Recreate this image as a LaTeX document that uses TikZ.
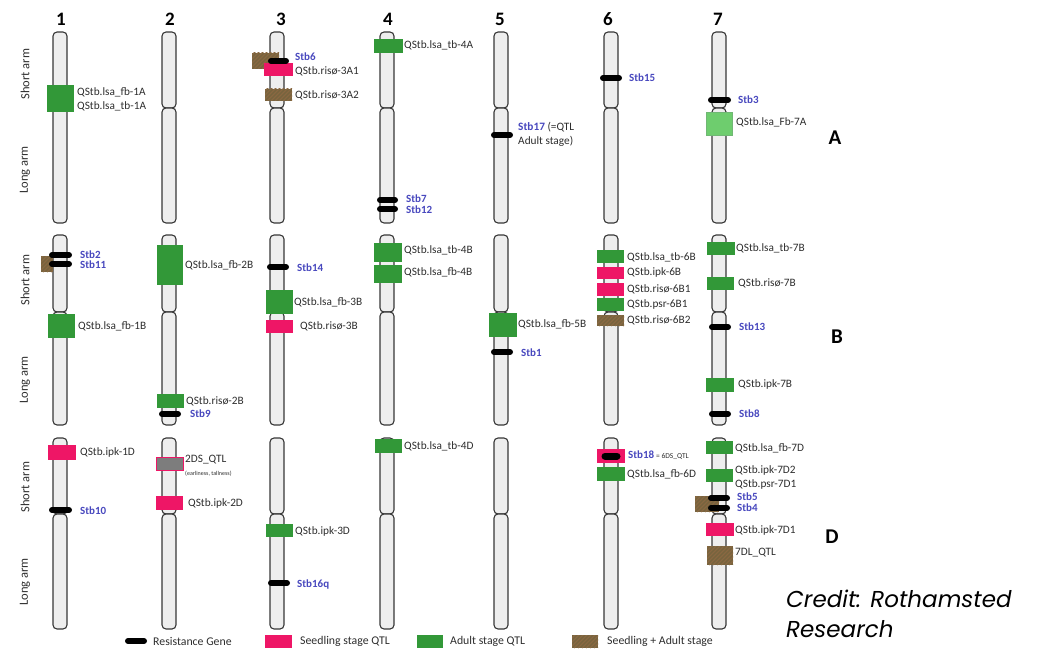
\documentclass[tikz,border=0pt]{standalone}
\usepackage{fontspec}
\setmainfont{Carlito}
\newfontfamily\creditfont{Poppins}
\definecolor{chrfill}{RGB}{238,238,238}
\definecolor{chrline}{RGB}{55,55,55}
\definecolor{adult}{RGB}{50,152,56}
\definecolor{adultlt}{RGB}{110,205,110}
\definecolor{seed}{RGB}{238,22,102}
\definecolor{both}{RGB}{118,100,62}
\definecolor{hatch}{RGB}{138,104,66}
\definecolor{stbblue}{RGB}{72,72,190}
\definecolor{qtltext}{RGB}{45,45,45}
\definecolor{grayq}{RGB}{125,125,125}
\newcommand\chromo[4]{%
  \draw[chr] (#1-7,#2) rectangle (#1+7,#3);
  \draw[chr] (#1-7,#3) rectangle (#1+7,#4);}
% hatched "seedling + adult" box: x1 y1 x2 y2
\newcommand\bothbox[4]{%
  \begin{scope}
    \clip (#1,#2) rectangle (#3,#4);
    \fill[both] (#1,#2) rectangle (#3,#4);
    \foreach \hh in {-30,-26,...,40} {
      \draw[hatch, line width=1.3pt] (#1+\hh,#4) -- (#1+\hh+30,#4-30);
    }
  \end{scope}}
\begin{document}
\begin{tikzpicture}[x=1pt,y=-1pt,
  chr/.style={draw=chrline, fill=chrfill, line width=1.1pt, rounded corners=4pt},
  adultq/.style={fill=adult},
  adultltq/.style={fill=adultlt, draw=adult!70, line width=0.6pt},
  seedq/.style={fill=seed},
  grayqtl/.style={fill=grayq, draw=seed, line width=1pt},
  gene/.style={draw=black, line width=6pt, line cap=round},
  qlab/.style={anchor=west, inner sep=0pt, text=qtltext, font=\fontsize{11.3}{13}\selectfont},
  slab/.style={anchor=west, inner sep=0pt, text=stbblue, font=\bfseries\fontsize{11}{12}\selectfont},
  tinylab/.style={anchor=west, inner sep=0pt, text=qtltext, font=\fontsize{6}{7}\selectfont},
  numlab/.style={inner sep=0pt, font=\bfseries\fontsize{19}{20}\selectfont},
  rowlab/.style={inner sep=0pt, font=\bfseries\fontsize{21}{22}\selectfont},
  armlab/.style={inner sep=0pt, rotate=90, text=qtltext, font=\fontsize{12.5}{14}\selectfont},
  leglab/.style={anchor=west, inner sep=0pt, text=qtltext, font=\fontsize{11.8}{13}\selectfont},
  creditlab/.style={anchor=base west, inner sep=0pt, font=\creditfont\itshape\fontsize{23}{26}\selectfont}
]
\useasboundingbox (0,0) rectangle (1038,650);

% chromosome numbers
\node[numlab] (n1) at (61,19) {1};
\node[numlab] (n2) at (170,19) {2};
\node[numlab] (n3) at (281,19) {3};
\node[numlab] (n4) at (388,19) {4};
\node[numlab] (n5) at (500,19) {5};
\node[numlab] (n6) at (608,19) {6};
\node[numlab] (n7) at (718,19) {7};

% arm labels
\node[armlab] (sa) at (25,74) {Short arm};
\node[armlab] (la) at (25,170) {Long arm};
\node[armlab] (sb) at (25,280) {Short arm};
\node[armlab] (lb) at (25,380) {Long arm};
\node[armlab] (sd) at (25,487) {Short arm};
\node[armlab] (ld) at (25,582) {Long arm};

% row letters
\node[rowlab] (ra) at (835,138) {A};
\node[rowlab] (rb) at (837,337) {B};
\node[rowlab] (rd) at (832,537) {D};

% chromosomes
\foreach \cx in {60,169,277,387,501,611,719} {
  \chromo{\cx}{32}{108}{223}
  \chromo{\cx}{235}{312}{425}
  \chromo{\cx}{438}{514}{629}
}

% ===== Row A =====
\fill[adultq] (47,85) rectangle (74,112);
\node[qlab] (q1a1) at (77,92) {QStb.lsa\_fb-1A};
\node[qlab] (q1a2) at (77,106) {QStb.lsa\_tb-1A};

\bothbox{252}{53}{279}{69}
\fill[seedq] (264,63) rectangle (293,76);
\draw[gene] (271,61) -- (286,61);
\bothbox{265}{89}{292}{101}
\node[slab] (stb6) at (295,57) {Stb6};
\node[qlab] (q3a1) at (295,71) {QStb.risø-3A1};
\node[qlab] (q3a2) at (295,95) {QStb.risø-3A2};

\fill[adultq] (374,39) rectangle (403,53);
\node[qlab] (q4a) at (404,45) {QStb.lsa\_tb-4A};
\draw[gene] (380,200) -- (395,200);
\draw[gene] (380,209) -- (395,209);
\node[slab] (stb7) at (406,199) {Stb7};
\node[slab] (stb12) at (406,210) {Stb12};

\draw[gene] (494,135) -- (510,135);
\node[qlab] (stb17) at (518,127) {\textcolor{stbblue}{\bfseries Stb17} (=QTL};
\node[qlab] (stb17b) at (518,141) {Adult stage)};

\draw[gene] (603,78) -- (619,78);
\node[slab] (stb15) at (629,78) {Stb15};

\draw[gene] (711,100) -- (728,100);
\node[slab] (stb3) at (738,100) {Stb3};
\filldraw[adultltq] (706,112) rectangle (732,135);
\node[qlab] (q7a) at (736,122) {QStb.lsa\_Fb-7A};

% ===== Row B =====
\bothbox{41}{256}{53}{272}
\draw[gene] (52,255) -- (69,255);
\draw[gene] (52,264) -- (69,264);
\node[slab] (stb2) at (80,255) {Stb2};
\node[slab] (stb11) at (80,265) {Stb11};
\fill[adultq] (48,314) rectangle (75,338);
\node[qlab] (q1b) at (78,326) {QStb.lsa\_fb-1B};

\fill[adultq] (157,245) rectangle (183,285);
\node[qlab] (q2b1) at (185,265) {QStb.lsa\_fb-2B};
\fill[adultq] (157,394) rectangle (184,408);
\node[qlab] (q2b2) at (186,401) {QStb.risø-2B};
\draw[gene] (162,414) -- (178,414);
\node[slab] (stb9) at (190,414) {Stb9};

\draw[gene] (270,267) -- (286,267);
\node[slab] (stb14) at (297,268) {Stb14};
\fill[adultq] (266,290) rectangle (293,314);
\node[qlab] (q3b1) at (294,302) {QStb.lsa\_fb-3B};
\fill[seedq] (266,320) rectangle (293,333);
\node[qlab] (q3b2) at (300,326) {QStb.risø-3B};

\fill[adultq] (374,243) rectangle (402,262);
\node[qlab] (q4b1) at (404,250) {QStb.lsa\_tb-4B};
\fill[adultq] (374,265) rectangle (402,283);
\node[qlab] (q4b2) at (404,272) {QStb.lsa\_fb-4B};

\fill[adultq] (489,313) rectangle (517,337);
\node[qlab] (q5b) at (518,324) {QStb.lsa\_fb-5B};
\draw[gene] (494,352) -- (510,352);
\node[slab] (stb1) at (521,353) {Stb1};

\fill[adultq] (597,250) rectangle (624,263);
\fill[seedq] (597,267) rectangle (624,279);
\fill[seedq] (597,283) rectangle (624,296);
\fill[adultq] (597,298) rectangle (624,311);
\bothbox{597}{315}{624}{326}
\node[qlab] (q6b1) at (627,257) {QStb.lsa\_tb-6B};
\node[qlab] (q6b2) at (627,272) {QStb.ipk-6B};
\node[qlab] (q6b3) at (627,289) {QStb.risø-6B1};
\node[qlab] (q6b4) at (627,304) {QStb.psr-6B1};
\node[qlab] (q6b5) at (627,320) {QStb.risø-6B2};

\fill[adultq] (707,242) rectangle (735,255);
\node[qlab] (q7b1) at (736,248) {QStb.lsa\_tb-7B};
\fill[adultq] (707,277) rectangle (734,290);
\node[qlab] (q7b2) at (738,283) {QStb.risø-7B};
\draw[gene] (712,327) -- (728,327);
\node[slab] (stb13) at (739,327) {Stb13};
\fill[adultq] (706,378) rectangle (734,392);
\node[qlab] (q7b3) at (738,384) {QStb.ipk-7B};
\draw[gene] (712,414) -- (728,414);
\node[slab] (stb8) at (739,414) {Stb8};

% ===== Row D =====
\fill[seedq] (48,445) rectangle (76,460);
\node[qlab] (q1d) at (80,452) {QStb.ipk-1D};
\draw[gene] (52,510) -- (69,510);
\node[slab] (stb10) at (80,511) {Stb10};

\filldraw[grayqtl] (156,457) rectangle (183,470);
\node[qlab] (q2d1) at (185,460) {2DS\_QTL};
\node[tinylab] (q2d1b) at (185,474) {(earliness, tallness)};
\fill[seedq] (156,496) rectangle (183,510);
\node[qlab] (q2d2) at (188,503) {QStb.ipk-2D};

\fill[adultq] (266,524) rectangle (293,537);
\node[qlab] (q3d) at (295,531) {QStb.ipk-3D};
\draw[gene] (271,583) -- (287,583);
\node[slab] (stb16) at (297,584) {Stb16q};

\fill[adultq] (375,439) rectangle (402,453);
\node[qlab] (q4d) at (404,446) {QStb.lsa\_tb-4D};

\fill[seedq] (597,449) rectangle (625,463);
\draw[gene, line width=7pt] (605,456) -- (617,456);
\node[slab] (stb18) at (628,455) {Stb18\,{\mdseries\color{qtltext}\fontsize{7.5}{8}\selectfont = 6DS\_QTL}};
\fill[adultq] (597,467) rectangle (625,481);
\node[qlab] (q6d) at (627,474) {QStb.lsa\_fb-6D};

\fill[adultq] (706,441) rectangle (733,454);
\node[qlab] (q7d1) at (735,448) {QStb.lsa\_fb-7D};
\fill[adultq] (706,469) rectangle (733,482);
\node[qlab] (q7d2) at (735,470) {QStb.ipk-7D2};
\node[qlab] (q7d3) at (735,484) {QStb.psr-7D1};
\bothbox{695}{496}{719}{512}
\draw[gene] (711,498) -- (727,498);
\draw[gene] (711,508) -- (727,508);
\node[slab] (stb5) at (737,497) {Stb5};
\node[slab] (stb4) at (737,508) {Stb4};
\fill[seedq] (706,523) rectangle (734,536);
\node[qlab] (q7d4) at (735,530) {QStb.ipk-7D1};
\bothbox{707}{546}{733}{565}
\node[qlab] (q7d5) at (735,553) {7DL\_QTL};

% ===== Legend =====
\draw[gene] (128,641) -- (144,641);
\node[leglab] (lg1) at (153,641) {Resistance Gene};
\fill[seedq] (265,635) rectangle (292,648);
\node[leglab] (lg2) at (300,641) {Seedling stage QTL};
\fill[adultq] (417,635) rectangle (443,648);
\node[leglab] (lg3) at (450,641) {Adult stage QTL};
\bothbox{572}{635}{598}{648}
\node[leglab] (lg4) at (607,641) {Seedling + Adult stage};

% ===== Credit =====
\node[creditlab] (cr1) at (786,607) {Credit: Rothamsted};
\node[creditlab] (cr2) at (786,637) {Research};
\end{tikzpicture}
\end{document}
